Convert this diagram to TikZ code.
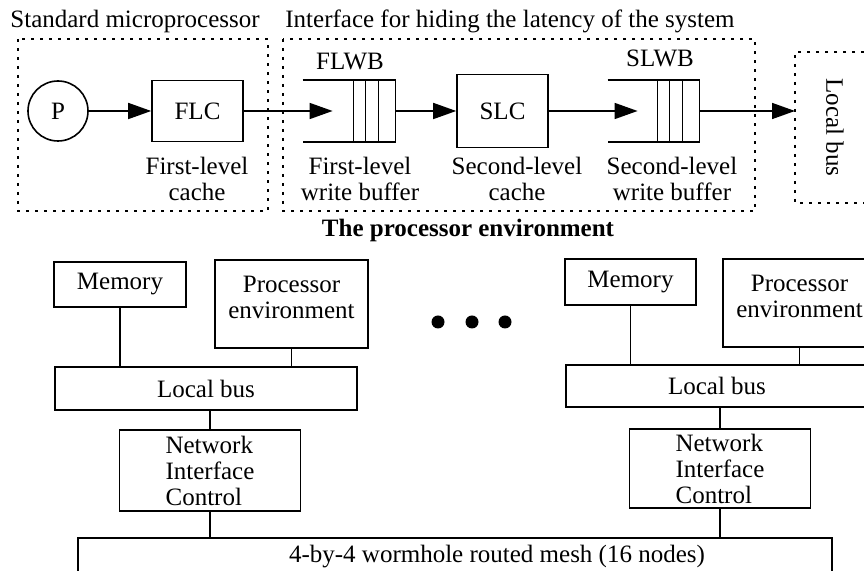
\documentclass[tikz,border=0pt]{standalone}
\usepackage{fontspec}
\setmainfont{Liberation Serif}
\usetikzlibrary{calc,arrows.meta,positioning}

\begin{document}
\begin{tikzpicture}[x=0.5pt,y=-0.5pt,
		every node/.style={font=\fontsize{12.5}{13}\selectfont},
		box/.style={draw,line width=0.8pt,rectangle,inner sep=0pt},
		dotbox/.style={line width=0.9pt,dash pattern=on 1.5pt off 3pt},
		arr/.style={line width=0.8pt,-{Triangle[length=11.5pt,width=8pt]}},
		wire/.style={line width=0.8pt},
		sublabel/.style={align=center,inner sep=0pt}]
			
			\useasboundingbox (0,0) rectangle (864,571);
			\clip (0,0) rectangle (864,571);
			
			\node[anchor=base west,inner sep=0pt] (tstd) at (10,28) {Standard microprocessor};
			\node[anchor=base west,inner sep=0pt] (tint) at (285,28) {Interface for hiding the latency of the system};
			
			\draw[dotbox] (18,39) rectangle (268,211);
			\draw[dotbox] (283,39) rectangle (755,211);
			\draw[dotbox] (900,52) -- (795,52) -- (795,203) -- (900,203);
			\coordinate (lbin) at (795,111);
			
			\node[draw,circle,line width=0.8pt,minimum size=30pt,inner sep=0pt] (p) at (58,111) {P};
			\node[box,minimum width=45.5pt,minimum height=30.5pt] (flc) at (197.5,111) {FLC};
			\node[minimum width=46pt,minimum height=30.5pt,inner sep=0pt] (flwb) at (349,111) {};
			\node[box,minimum width=45.5pt,minimum height=36.5pt] (slc) at (502.5,111) {SLC};
			\node[minimum width=45.5pt,minimum height=30.5pt,inner sep=0pt] (slwb) at (653.5,111) {};
			
			\foreach \b in {flwb,slwb} {
				\draw[wire] (\b.north west) -- (\b.north east) -- (\b.south east) -- (\b.south west);
				\foreach \d in {8.5,15,21}
					\draw[wire] ([xshift=-\d pt]\b.north east) -- ([xshift=-\d pt]\b.south east);
			}
			
			\node[anchor=base] (flwbt) at (350,70) {FLWB};
			\node[anchor=base] (slwbt) at (660,67) {SLWB};
			
			\node[sublabel,anchor=north] (flcl) at (197,157) {First-level\\cache};
			\node[sublabel,anchor=north] (flwbl) at (360,157) {First-level\\write buffer};
			\node[sublabel,anchor=north] (slcl) at (517,157) {Second-level\\cache};
			\node[sublabel,anchor=north] (slwbl) at (672,157) {Second-level\\write buffer};
			
			\draw[arr] (p) -- (flc);
			\draw[arr] (flc) -- ($(flwb.west)+(30,0)$);
			\draw[arr] (flwb) -- (slc);
			\draw[arr] (slc) -- ($(slwb.west)+(30,0)$);
			\draw[arr] (slwb) -- (lbin);
			
			\node[rotate=-90] (lbus) at (835,127.5) {Local bus};
			
			\node[font=\bfseries\fontsize{12.5}{13}\selectfont,anchor=base] (penv) at (468,237) {The processor environment};
			
			\node[box,minimum width=66pt,minimum height=22.5pt] (mem1) at (120,284.5) {Memory};
			\node[box,minimum width=76.5pt,minimum height=44pt] (proc1) at (291.5,304) {};
			\node[sublabel,anchor=north] (proc1t) at ([yshift=-8.5pt]proc1.north) {Processor\\environment};
			\node[box,minimum width=151pt,minimum height=21.5pt] (lb1) at (206,388.5) {Local bus};
			\node[box,minimum width=90.5pt,minimum height=40.5pt,align=left] (nic1) at (210,470.5) {Network\\Interface\\Control};
			
			\node[box,minimum width=65.5pt,minimum height=23pt] (mem2) at (630.5,282) {Memory};
			\node[box,minimum width=76.5pt,minimum height=44pt] (proc2) at (799.5,303) {};
			\node[sublabel,anchor=north] (proc2t) at ([yshift=-8.5pt]proc2.north) {Processor\\environment};
			\node[box,minimum width=151pt,minimum height=21pt] (lb2) at (717,386) {Local bus};
			\node[box,minimum width=90.5pt,minimum height=39.5pt,align=left] (nic2) at (720,468.5) {Network\\Interface\\Control};
			
			\node[box,minimum width=377pt,minimum height=19pt] (mesh) at (455,557) {};
			\node (mesht) at (497,557) {4-by-4 wormhole routed mesh (16 nodes)};
			
			\foreach \i in {1,2} {
				\draw[wire] (mem\i) -- (mem\i |- lb\i.north);
				\draw[wire] (proc\i) -- (proc\i |- lb\i.north);
				\draw[wire] (lb\i.south -| nic\i) -- (nic\i);
				\draw[wire] (nic\i) -- (nic\i |- mesh.north);
			}
			
			\foreach \x in {438,472,505}
				\fill (\x,322) circle (3.25pt);
			
		\end{tikzpicture}
\end{document}
